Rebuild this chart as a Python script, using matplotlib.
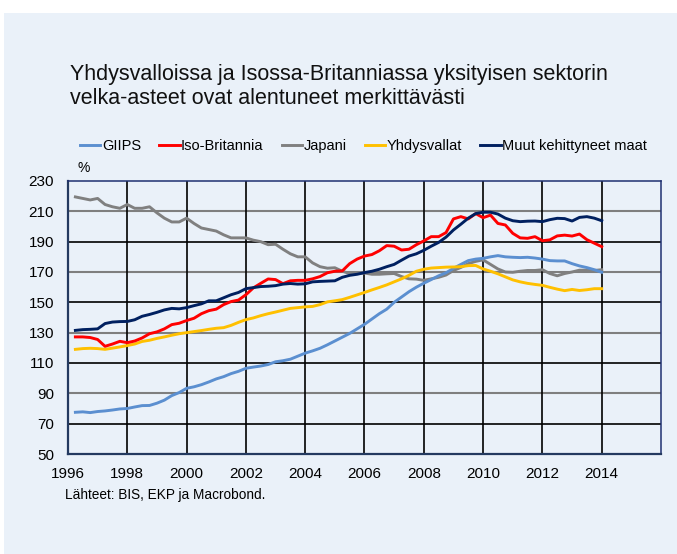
import numpy as np
import matplotlib.pyplot as plt
from matplotlib.patches import Rectangle

plt.rcParams['font.family'] = ['Liberation Sans', 'DejaVu Sans']

# quarterly observations, 1996Q1 .. 2013Q4 (plotted at quarter end)
quarters = np.arange(1996.25, 2014.01, 0.25)

giips = [77.5, 77.8, 77.3, 78.0, 78.4, 79.0, 79.7, 80.0, 81.0, 81.9, 82.0, 83.5,
         85.5, 88.5, 90.5, 93.3, 94.3, 95.7, 97.5, 99.5, 101.0, 103.0, 104.5, 106.5,
         107.3, 108.0, 109.0, 110.8, 111.5, 112.5, 114.5, 116.5, 118.0, 119.7, 122.0, 124.5,
         127.0, 129.5, 132.5, 135.5, 139.0, 142.5, 145.5, 150.0, 153.5, 157.0, 160.0, 162.6,
         165.0, 167.5, 169.5, 172.4, 175.0, 177.5, 178.5, 179.0, 180.0, 180.8, 180.0, 179.7,
         179.5, 179.7, 179.2, 178.5, 177.5, 177.3, 177.3, 175.5, 174.0, 172.9, 171.5, 169.8]

uk = [127.2, 127.2, 126.8, 125.5, 121.0, 122.5, 124.3, 123.4, 124.5, 126.5, 129.3, 130.5,
      132.5, 135.3, 136.2, 138.0, 139.5, 142.5, 144.5, 145.5, 148.5, 150.5, 151.5, 155.0,
      159.5, 162.5, 165.4, 165.0, 162.3, 164.2, 164.5, 164.5, 165.5, 167.0, 169.5, 170.5,
      170.7, 175.5, 178.5, 180.5, 181.5, 184.0, 187.4, 187.0, 184.5, 185.0, 188.0, 190.5,
      193.3, 193.3, 196.0, 205.0, 206.5, 205.0, 208.5, 205.8, 207.5, 202.0, 201.0, 195.5,
      192.5, 192.2, 193.3, 190.6, 191.2, 193.8, 194.3, 193.7, 195.0, 191.3, 189.0, 186.7]

japan = [219.5, 218.5, 217.5, 218.5, 214.5, 213.0, 212.0, 214.5, 212.0, 212.0, 213.0, 209.0,
         205.5, 203.0, 203.0, 205.5, 202.0, 199.0, 198.0, 197.0, 194.5, 192.5, 192.5, 192.5,
         191.0, 190.0, 188.0, 188.3, 185.0, 182.0, 180.0, 180.0, 176.0, 173.5, 172.5, 172.8,
         170.5, 169.0, 169.0, 169.3, 168.5, 168.5, 168.8, 169.0, 167.0, 165.5, 165.3, 164.5,
         165.5, 166.5, 168.0, 171.0, 173.0, 175.5, 177.0, 178.0, 175.0, 172.0, 170.0, 169.8,
         170.5, 171.0, 171.0, 171.5, 169.0, 167.5, 169.0, 170.0, 171.2, 171.2, 171.0, 171.5]

usa = [119.0, 119.5, 119.7, 119.5, 119.0, 119.8, 120.6, 121.5, 122.5, 124.2, 125.0, 126.2,
       127.2, 128.3, 129.3, 130.0, 130.7, 131.4, 132.2, 132.9, 133.3, 134.8, 136.8, 138.6,
       139.7, 141.2, 142.5, 143.6, 144.8, 146.0, 146.5, 147.0, 147.3, 148.5, 150.3, 151.0,
       151.8, 153.3, 154.9, 156.5, 158.2, 159.8, 161.5, 163.5, 165.5, 167.8, 170.5, 171.8,
       172.6, 172.9, 173.2, 173.3, 173.5, 174.2, 174.3, 172.0, 170.5, 168.8, 166.8, 164.8,
       163.5, 162.5, 161.8, 161.2, 159.9, 158.7, 157.7, 158.5, 157.8, 158.3, 159.0, 159.0]

other = [131.5, 132.0, 132.2, 132.5, 136.0, 137.0, 137.3, 137.4, 138.5, 140.8, 142.0, 143.4,
         145.0, 146.0, 145.7, 146.5, 147.8, 149.0, 151.0, 151.0, 153.0, 155.0, 156.5, 159.0,
         159.7, 160.4, 160.6, 161.0, 162.0, 162.4, 162.0, 162.2, 163.5, 163.8, 164.0, 164.2,
         166.5, 167.8, 168.5, 169.6, 170.5, 171.8, 173.5, 175.0, 177.8, 180.5, 182.0, 184.3,
         187.0, 189.5, 193.0, 197.7, 201.5, 205.5, 208.5, 209.4, 209.4, 208.2, 205.5, 203.8,
         203.2, 203.5, 203.6, 203.2, 204.5, 205.4, 205.2, 203.6, 206.0, 206.5, 205.5, 203.8]

labels = ['GIIPS', 'Iso-Britannia', 'Japani', 'Yhdysvallat', 'Muut kehittyneet maat']
colors = ['#5B8FD0', '#FF0000', '#808080', '#FFC000', '#002060']
series = [giips, uk, japan, usa, other]

bg = '#EAF1F9'

fig = plt.figure(figsize=(6.77, 5.54), dpi=100)
fig.patch.set_facecolor('white')
fig.patches.append(Rectangle((4 / 677, 0), 1, 1 - 13 / 554, transform=fig.transFigure,
                             facecolor=bg, edgecolor='none', zorder=-10))

ax = fig.add_axes([0.1004, 0.1805, 0.876, 0.4928])
ax.set_facecolor(bg)

# grid: black and grey horizontals alternate, black verticals every 2 years
for v in range(70, 230, 20):
    c = '#7F7F7F' if (v - 90) % 40 == 0 else 'black'
    ax.axhline(v, color=c, lw=1.5 if c != 'black' else 1.2, zorder=1)
for yr in range(1998, 2016, 2):
    ax.axvline(yr, color='black', lw=1.2, zorder=1)

# draw order: Japan first so others sit over it
order = [2, 0, 3, 1, 4]
lines = {}
for i in order:
    ln, = ax.plot(quarters, series[i], color=colors[i], lw=2.1, zorder=3,
                  solid_joinstyle='round')
    lines[i] = ln

ax.set_xlim(1996, 2016)
ax.set_ylim(50, 230)
ax.set_xticks(range(1996, 2016, 2))
ax.set_yticks(range(50, 231, 20))
ax.tick_params(length=0, labelsize=11, colors='black')
ax.tick_params(axis='x', pad=9)
ax.tick_params(axis='y', pad=10)
for s in ['left', 'bottom']:
    ax.spines[s].set_color('#243A60')
    ax.spines[s].set_linewidth(1.6)
for s in ['top', 'right']:
    ax.spines[s].set_color('#1F3070')
    ax.spines[s].set_linewidth(1.1)

fig.text(70 / 677, 1 - 64 / 554,
         'Yhdysvalloissa ja Isossa-Britanniassa yksityisen sektorin\n'
         'velka-asteet ovat alentuneet merkittävästi',
         fontsize=15.5, va='top', ha='left', linespacing=1.2, color='#111111')

fig.legend([lines[i] for i in range(5)], labels, loc='center',
           bbox_to_anchor=(0.537, 1 - 146 / 554), ncol=5, frameon=False,
           fontsize=10.5, handlelength=1.4, handletextpad=0.1, columnspacing=1.25)

fig.text(78 / 677, 1 - 168 / 554, '%', fontsize=10, ha='left', va='center')
fig.text(65 / 677, 1 - 495 / 554, 'Lähteet: BIS, EKP ja Macrobond.', fontsize=9.8,
         ha='left', va='center')

fig.savefig('out.png', dpi=100, facecolor=fig.get_facecolor())
